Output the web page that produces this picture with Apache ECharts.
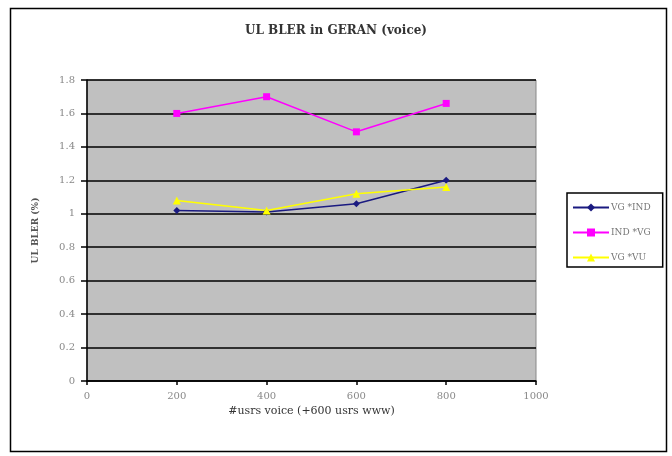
<!DOCTYPE html>
<html><head><meta charset="utf-8">
<script src="https://cdn.jsdelivr.net/npm/echarts@6/dist/echarts.min.js"></script>
<style>html,body{margin:0;padding:0;background:#fff}#c{width:672px;height:456px}</style>
</head><body><div id="c"></div>
<script>
var xValues = [200, 400, 600, 800];
var seriesNames = ['VG *IND', 'IND *VG', 'VG *VU'];
var vgInd = [1.02, 1.01, 1.06, 1.20];
var indVg = [1.60, 1.70, 1.49, 1.66];
var vgVu = [1.08, 1.02, 1.12, 1.16];
var chartTitle = 'UL BLER in GERAN (voice)';
var xName = '#usrs voice (+600 usrs www)';
var yName = 'UL BLER (%)';

function pairs(v){ return xValues.map(function(x,i){return [x, v[i]];}); }
var font = 'DejaVu Serif';
var chart = echarts.init(document.getElementById('c'));
chart.setOption({
  animation:false,
  backgroundColor:'#fff',
  graphic:[{type:'rect', shape:{x:10.5,y:8.5,width:656,height:443}, style:{fill:'none', stroke:'#000', lineWidth:1.5}, z:-1}],
  title:{text:chartTitle, left:'center', top:20, textStyle:{fontFamily:font, fontSize:12, fontWeight:'bold', color:'#333'}},
  grid:{left:87, right:136, top:80, bottom:75, show:true, backgroundColor:'#c0c0c0', borderColor:'#888', borderWidth:1},
  legend:{orient:'vertical', left:567, top:193, padding:[10,12,5,5], itemGap:16, itemWidth:36, itemHeight:10,
    borderColor:'#000', borderWidth:1.5, backgroundColor:'#fff',
    textStyle:{fontFamily:font, fontSize:9, color:'#777', padding:[0,0,0,-3]}, data:seriesNames},
  xAxis:{type:'value', min:0, max:1000, interval:200,
    name:xName, nameLocation:'middle', nameGap:24,
    nameTextStyle:{fontFamily:font, fontSize:11, color:'#333'},
    axisLine:{lineStyle:{color:'#000', width:1.5}},
    axisTick:{show:true, length:4, lineStyle:{color:'#000', width:1.5}},
    axisLabel:{fontFamily:font, fontSize:10, color:'#888', margin:10, formatter:function(v){return String(v);}},
    splitLine:{show:false}},
  yAxis:{type:'value', min:0, max:1.8, interval:0.2,
    name:yName, nameLocation:'middle', nameGap:47, nameRotate:90,
    nameTextStyle:{fontFamily:font, fontSize:9, fontWeight:'bold', color:'#555'},
    axisLine:{show:true, lineStyle:{color:'#000', width:1.5}},
    axisTick:{show:true, length:6, lineStyle:{color:'#000', width:1.5}},
    axisLabel:{fontFamily:font, fontSize:10, color:'#888', margin:12,
      formatter:function(v){return String(Math.round(v*10)/10);}},
    splitLine:{show:true, lineStyle:{color:'#000', width:1.5}}},
  series:[
    {name:seriesNames[0], type:'line', data:pairs(vgInd), color:'#1a1a80', symbol:'diamond', symbolSize:7, lineStyle:{width:1.5}},
    {name:seriesNames[1], type:'line', data:pairs(indVg), color:'#ff00ff', symbol:'rect', symbolSize:7, lineStyle:{width:1.5}},
    {name:seriesNames[2], type:'line', data:pairs(vgVu), color:'#ffff00', symbol:'triangle', symbolSize:8, lineStyle:{width:1.5}}
  ]
});
</script></body></html>
